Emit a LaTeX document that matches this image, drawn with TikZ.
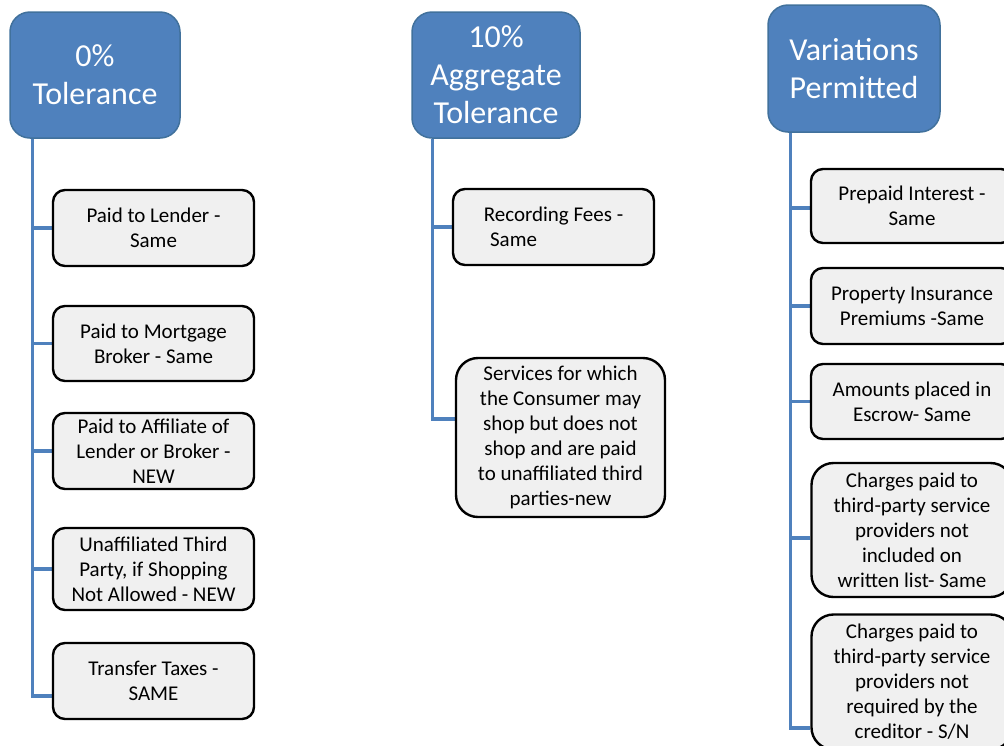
\documentclass[tikz,border=0pt]{standalone}
\usepackage{fontspec}
\setmainfont{Carlito}
\usetikzlibrary{backgrounds}
\definecolor{hdrblue}{HTML}{4F81BD}
\definecolor{hdrline}{HTML}{41719C}
\definecolor{boxgray}{HTML}{F0F0F0}
\tikzset{
	header/.style={draw=hdrline, line width=1.5pt, fill=hdrblue, rounded corners=20pt, text=white,
		align=center, font=\fontsize{32}{38}\selectfont, minimum height=126pt, inner sep=0pt},
	item/.style={draw=black, line width=2.4pt, fill=boxgray, rounded corners=12pt,
		align=center, font=\fontsize{21}{25}\selectfont, inner sep=0pt, minimum width=201pt},
	tallitem/.style={item, rounded corners=22pt},
	conn/.style={draw=hdrblue, line width=3.2pt}
}
\begin{document}
\begin{tikzpicture}[x=1pt, y=-1pt]
	\clip (0,0) rectangle (1004,745);
	% headers
	\node[header, minimum width=170pt] (zero) at (95,75) {0\%\\Tolerance};
	\node[header, minimum width=168pt] (ten) at (496,75) {10\%\\Aggregate\\Tolerance};
	\node[header, minimum width=172pt, minimum height=127pt] (var) at (854,68.5) {Variations\\Permitted};
	% 0% column
	\begin{scope} [every node/.style={item}]
		\node[minimum height=76pt] (z1) at (153.5,228) {Paid to Lender -\\Same};
		\node[minimum height=75pt] (z2) at (153.5,343.5) {Paid to Mortgage\\Broker - Same};
		\node[minimum height=76pt] (z3) at (153.5,451) {Paid to Affiliate of\\Lender or Broker -\\NEW};
		\node[minimum height=82pt] (z4) at (153.5,569) {Unaffiliated Third\\Party, if Shopping\\Not Allowed - NEW};
		\node[minimum height=76pt] (z5) at (153.5,681) {Transfer Taxes -\\SAME};
	\end{scope}
	% 10% column
	\node[item, minimum height=76pt, align=left] (t1) at (553.5,227) {Recording Fees -\\\hspace*{0.3em}Same};
	\node[tallitem, minimum width=209pt, minimum height=159pt] (t2) at (560.5,437.5)
		{Services for which\\the Consumer may\\shop but does not\\shop and are paid\\to unaffiliated third\\parties-new};
	% variations column
	\begin{scope} [every node/.style={item, minimum width=202pt}]
		\node[minimum height=74pt] (v1) at (912,206) {Prepaid Interest -\\Same};
		\node[minimum height=76pt] (v2) at (912,306) {Property Insurance\\Premiums -Same};
		\node[minimum height=75pt] (v3) at (912,401.5) {Amounts placed in\\Escrow- Same};
		\node[tallitem, minimum height=134pt] (v4) at (912,530)
			{Charges paid to\\third-party service\\providers not\\included on\\written list- Same};
		\node[tallitem, minimum height=135pt] (v5) at (912,682)
			{Charges paid to\\third-party service\\providers not\\required by the\\creditor - S/N};
	\end{scope}
	% connectors
	\begin{scope}[on background layer]
		\coordinate (zl) at ([xshift=23pt]zero.south west);
		\coordinate (tl) at ([xshift=21pt]ten.south west);
		\coordinate (vl) at ([xshift=23pt]var.south west);
		\draw[conn] (zl) |- ([yshift=-15pt]z5.west);
		\foreach \n in {z1,z2,z3,z4}
			\draw[conn] (\n.west) -- (\n.west -| zl);
		\draw[conn] (tl) |- ([yshift=18.5pt]t2.west);
		\draw[conn] (t1.west) -- (t1.west -| tl);
		\draw[conn] (vl) |- ([yshift=-46pt]v5.west);
		\draw[conn] ([yshift=-2pt]v1.west) -- ([yshift=-2pt]v1.west -| vl);
		\draw[conn] (v2.west) -- (v2.west -| vl);
		\draw[conn] (v3.west) -- (v3.west -| vl);
		\draw[conn] ([yshift=-8pt]v4.west) -- ([yshift=-8pt]v4.west -| vl);
	\end{scope}
\end{tikzpicture}
\end{document}
